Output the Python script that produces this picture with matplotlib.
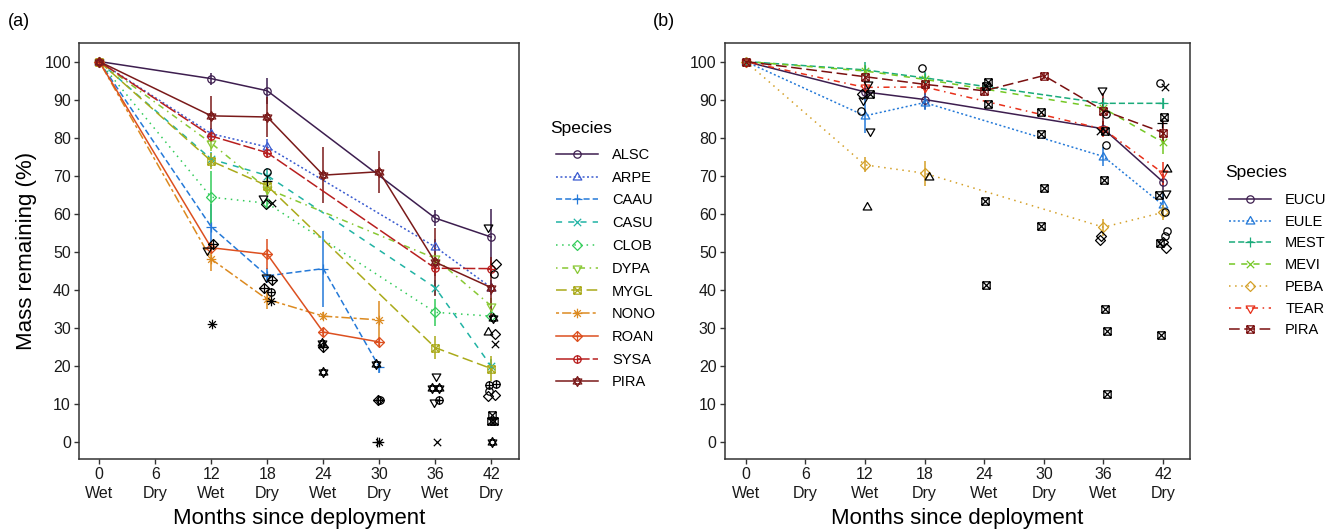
import numpy as np
import matplotlib.pyplot as plt
from matplotlib.path import Path

plt.rcParams['font.family'] = ['Liberation Sans', 'DejaVu Sans']

nan = np.nan

# ------------------------------------------------------------ data
months = [0, 6, 12, 18, 24, 30, 36, 42]
seasons = ['Wet', 'Dry', 'Wet', 'Dry', 'Wet', 'Dry', 'Wet', 'Dry']

# panel (a) - mean mass remaining (%) and error
species_a = ['ALSC', 'ARPE', 'CAAU', 'CASU', 'CLOB', 'DYPA', 'MYGL', 'NONO', 'ROAN', 'SYSA', 'PIRA']
alsc = [100, nan, 95.5, 92.3, nan, nan, 58.8, 53.8]
arpe = [100, nan, 81.0, 77.5, nan, nan, 51.2, 40.5]
caau = [100, nan, 56.5, 43.6, 45.5, 19.6, nan, nan]
casu = [100, nan, 74.3, 70.0, nan, nan, 40.5, 19.8]
clob = [100, nan, 64.3, 62.7, nan, nan, 34.0, 33.0]
dypa = [100, nan, 78.5, 66.5, nan, nan, 48.2, 35.7]
mygl = [100, nan, 73.8, 67.3, nan, nan, 24.7, 19.2]
nono = [100, nan, 48.0, 37.4, 33.0, 32.0, nan, nan]
roan = [100, nan, 51.0, 49.3, 28.8, 26.2, nan, nan]
sysa = [100, nan, 80.4, 76.0, nan, nan, 45.6, 45.5]
pira_a = [100, nan, 85.7, 85.4, 70.1, 71.0, 47.2, 40.5]

alsc_err = [0, nan, 1.6, 3.4, nan, nan, 2.0, 7.5]
arpe_err = [0, nan, 1.5, 2.0, nan, nan, 2.0, 2.0]
caau_err = [0, nan, 6.0, 2.0, 10.0, 1.5, nan, nan]
casu_err = [0, nan, 2.0, 2.0, nan, nan, 2.0, 2.0]
clob_err = [0, nan, 7.0, 1.5, nan, nan, 3.5, 1.0]
dypa_err = [0, nan, 2.0, 1.5, nan, nan, 1.5, 2.0]
mygl_err = [0, nan, 2.0, 2.0, nan, nan, 3.0, 3.3]
nono_err = [0, nan, 3.0, 2.5, 1.0, 5.0, nan, nan]
roan_err = [0, nan, 1.5, 4.0, 1.0, 1.0, nan, nan]
sysa_err = [0, nan, 1.5, 1.5, nan, nan, 2.0, 2.0]
pira_a_err = [0, nan, 5.3, 5.2, 7.4, 5.5, 9.0, 8.0]

# panel (a) - individual samples (black)
ind_a_month = [12.2, 11.5, 12.1,
               18.0, 18.0, 17.5, 17.9, 18.5, 17.9, 18.5, 17.7, 18.4, 18.4,
               23.9, 24.0, 24.0,
               29.6, 29.9, 30.1, 30.0, 29.8,
               36.1, 35.7, 36.4, 35.9, 36.4, 36.2,
               41.6, 42.5, 42.3, 42.2, 41.6, 42.4, 42.4, 41.8, 42.5, 41.8, 41.7, 42.4,
               42.1, 42.3, 42.0, 42.1]
ind_a_value = [52.0, 50.3, 31.0,
               71.0, 68.5, 64.0, 62.5, 62.7, 43.2, 42.6, 40.3, 39.3, 37.0,
               26.0, 25.0, 18.2,
               20.3, 11.0, 11.0, 0.0, 0.0,
               17.2, 14.0, 14.0, 10.3, 10.8, 0.0,
               56.5, 46.7, 44.1, 32.5, 28.8, 28.3, 25.6, 15.0, 15.2, 13.4, 12.0, 12.3,
               7.0, 5.5, 5.5, 0.0]
ind_a_species = ['ROAN', 'DYPA', 'NONO',
                 'ALSC', 'CAAU', 'DYPA', 'CLOB', 'CASU', 'DYPA', 'ROAN', 'ROAN', 'SYSA', 'NONO',
                 'PIRA', 'ROAN', 'PIRA',
                 'PIRA', 'ROAN', 'SYSA', 'NONO', 'CAAU',
                 'DYPA', 'PIRA', 'PIRA', 'DYPA', 'SYSA', 'CASU',
                 'DYPA', 'CLOB', 'ALSC', 'PIRA', 'ARPE', 'CLOB', 'CASU', 'SYSA', 'SYSA', 'ALSC',
                 'CLOB', 'CLOB', 'MYGL', 'MYGL', 'MYGL', 'PIRA']

# panel (b)
species_b = ['EUCU', 'EULE', 'MEST', 'MEVI', 'PEBA', 'TEAR', 'PIRA']
eucu = [100, nan, 92.0, 90.0, nan, nan, 82.3, 68.3]
eule = [100, nan, 85.7, 89.2, nan, nan, 75.0, 62.2]
mest = [100, nan, 97.8, 95.7, nan, nan, 89.0, 89.0]
mevi = [100, nan, 97.5, 95.3, nan, nan, 87.7, 78.7]
peba = [100, nan, 72.8, 70.6, nan, nan, 56.4, 60.3]
tear = [100, nan, 93.2, 93.3, nan, nan, 82.2, 70.6]
pira_b = [100, nan, 96.0, 94.0, 92.3, 96.3, 87.1, 81.3]

eucu_err = [0, nan, 2.0, 2.6, nan, nan, 2.0, 2.0]
eule_err = [0, nan, 4.5, 2.0, nan, nan, 2.6, 3.0]
mest_err = [0, nan, 2.0, 1.5, nan, nan, 1.5, 1.5]
mevi_err = [0, nan, 1.5, 1.5, nan, nan, 1.5, 3.0]
peba_err = [0, nan, 2.0, 3.3, nan, nan, 2.2, 2.0]
tear_err = [0, nan, 1.5, 1.5, nan, nan, 2.0, 3.0]
pira_b_err = [0, nan, 1.5, 1.5, 1.5, 1.0, 4.5, 3.0]

ind_b_month = [12.2, 12.5, 11.6, 12.3, 12.5, 11.8, 11.7,
               17.7, 18.4,
               24.4, 24.2, 24.4, 24.1, 24.2,
               29.7, 29.7, 30.0, 29.7,
               35.9, 36.3, 35.6, 36.2, 36.3, 36.1, 35.6, 35.8, 36.2, 36.4, 36.4,
               41.7, 42.2, 42.1, 41.9, 42.4, 42.3, 41.6, 42.2, 42.4, 42.2, 42.0, 42.3, 41.7, 41.8]
ind_b_value = [61.6, 81.6, 87.1, 94.0, 91.5, 90.0, 91.5,
               98.4, 69.5,
               94.5, 93.5, 88.7, 63.2, 41.3,
               86.8, 81.0, 66.6, 56.8,
               92.4, 86.3, 81.6, 81.8, 78.0, 68.7, 53.0, 54.0, 35.0, 29.2, 12.4,
               94.3, 93.3, 85.5, 83.7, 71.8, 65.3, 64.8, 60.3, 55.5, 54.0, 52.5, 51.0, 52.3, 28.0]
ind_b_species = ['EULE', 'TEAR', 'EUCU', 'TEAR', 'PIRA', 'TEAR', 'PEBA',
                 'EUCU', 'EULE',
                 'PIRA', 'PIRA', 'PIRA', 'PIRA', 'PIRA',
                 'PIRA', 'PIRA', 'PIRA', 'PIRA',
                 'TEAR', 'EUCU', 'MEVI', 'PIRA', 'EUCU', 'PIRA', 'PEBA', 'PEBA', 'PIRA', 'PIRA', 'PIRA',
                 'EUCU', 'MEVI', 'PIRA', 'MEST', 'EULE', 'TEAR', 'PIRA', 'EUCU', 'EUCU', 'EUCU', 'PEBA',
                 'PEBA', 'PIRA', 'PIRA']

# ------------------------------------------------------------ markers (ggplot-like shapes)
def seg(a, b):
    return Path([a, b], [Path.MOVETO, Path.LINETO])

def poly(pts):
    return Path(pts + [pts[0]], closed=True)

circle = Path.unit_circle()
square = poly([(-1, -1), (1, -1), (1, 1), (-1, 1)])
diamond = poly([(0, 1), (1, 0), (0, -1), (-1, 0)])
tri_up = poly([(0, 1), (-0.866, -0.5), (0.866, -0.5)])
tri_dn = poly([(0, -1), (-0.866, 0.5), (0.866, 0.5)])
plus = Path.make_compound_path(seg((-1, 0), (1, 0)), seg((0, -1), (0, 1)))
cross = Path.make_compound_path(seg((-1, -1), (1, 1)), seg((-1, 1), (1, -1)))
diag = Path.make_compound_path(seg((-0.7, -0.7), (0.7, 0.7)), seg((-0.7, 0.7), (0.7, -0.7)))

shapes = {
    'circle': (circle, 1.0),
    'triup': (tri_up, 1.35),
    'tridn': (tri_dn, 1.35),
    'plus': (plus, 1.3),
    'cross': (cross, 1.0),
    'diamond': (diamond, 1.35),
    'sqcross': (Path.make_compound_path(square, cross), 1.0),
    'asterisk': (Path.make_compound_path(plus, diag), 1.3),
    'diaplus': (Path.make_compound_path(diamond, plus), 1.35),
    'circplus': (Path.make_compound_path(circle, plus), 1.0),
    'hexagram': (Path.make_compound_path(tri_up, tri_dn), 1.35),
}

# ------------------------------------------------------------ styles
colors_a = ['#3d1e4f', '#3a5bd0', '#2479d8', '#21b3a4', '#33cc5a', '#88c833',
            '#aaaa1a', '#dc8a20', '#dc5020', '#b81f1f', '#7a1a1a']
dashes_a = [None, (1.3, 1.6), (4, 2), (4, 4), (1, 3), (1, 3, 4, 3),
            (7, 3), (2, 2, 6, 2), None, (12, 2, 8, 2), None]
marks_a = ['circle', 'triup', 'plus', 'cross', 'diamond', 'tridn',
           'sqcross', 'asterisk', 'diaplus', 'circplus', 'hexagram']

colors_b = ['#3d1e4f', '#2479d8', '#1aab7a', '#74c824', '#d4a028', '#e8301a', '#7a1010']
dashes_b = [None, (1.3, 1.6), (4, 2), (4, 4), (1, 3), (1, 3, 4, 3), (7, 3)]
marks_b = ['circle', 'triup', 'plus', 'cross', 'diamond', 'tridn', 'sqcross']

MS = 5.3


def draw_panel(ax, names, means, errs, colors, dashes, marks, ind_x, ind_y, ind_sp):
    handles = []
    x_all = np.array(months, float)
    for name, y, e, c, d, mk in zip(names, means, errs, colors, dashes, marks):
        y = np.array(y, float)
        e = np.array(e, float)
        ok = ~np.isnan(y)
        path, f = shapes[mk]
        ax.errorbar(x_all[ok], y[ok], yerr=e[ok], fmt='none', ecolor=c,
                    elinewidth=1.1, capsize=0, zorder=2)
        kw = dict(color=c, lw=1.1, marker=path, ms=MS * f, mfc='none', mec=c,
                  mew=0.9, zorder=3, label=name)
        if d is None:
            ln, = ax.plot(x_all[ok], y[ok], ls='-', **kw)
        else:
            ln, = ax.plot(x_all[ok], y[ok], ls='--', dashes=d, **kw)
        handles.append(ln)
    lookup = dict(zip(names, marks))
    for xx, yy, sp in zip(ind_x, ind_y, ind_sp):
        path, f = shapes[lookup[sp]]
        ax.plot([xx], [yy], ls='none', marker=path, ms=MS * f, mfc='none',
                mec='black', mew=0.9, zorder=4)

    ax.set_ylim(-4.6, 104.8)
    ax.set_yticks(range(0, 101, 10))
    ax.set_xticks(months)
    ax.set_xticklabels([f'{m}\n{s}' for m, s in zip(months, seasons)])
    for lbl in ax.get_xticklabels():
        lbl.set_linespacing(1.3)
    ax.tick_params(direction='out', length=3.5, width=1, color='#333333',
                   labelsize=11.5, pad=2.5, labelcolor='#1a1a1a')
    for sp in ax.spines.values():
        sp.set_color('#333333')
        sp.set_linewidth(1.1)
    ax.set_xlabel('Months since deployment', fontsize=16, labelpad=5)
    return handles


fig = plt.figure(figsize=(13.3, 5.29), dpi=100)
ax_a = fig.add_axes([0.0596, 0.1323, 0.3306, 0.7859])
ax_b = fig.add_axes([0.5451, 0.1323, 0.3496, 0.7859])

h_a = draw_panel(ax_a, species_a,
                 [alsc, arpe, caau, casu, clob, dypa, mygl, nono, roan, sysa, pira_a],
                 [alsc_err, arpe_err, caau_err, casu_err, clob_err, dypa_err, mygl_err,
                  nono_err, roan_err, sysa_err, pira_a_err],
                 colors_a, dashes_a, marks_a, ind_a_month, ind_a_value, ind_a_species)
ax_a.set_xlim(-2.14, 44.97)
ax_a.set_ylabel('Mass remaining (%)', fontsize=16, labelpad=5)

h_b = draw_panel(ax_b, species_b,
                 [eucu, eule, mest, mevi, peba, tear, pira_b],
                 [eucu_err, eule_err, mest_err, mevi_err, peba_err, tear_err, pira_b_err],
                 colors_b, dashes_b, marks_b, ind_b_month, ind_b_value, ind_b_species)
ax_b.set_xlim(-2.08, 44.7)

leg_kw = dict(loc='upper left', frameon=False, fontsize=10.5,
              handlelength=2.9, handletextpad=0.95,
              borderpad=0, borderaxespad=0)
fig.legend(h_a, species_a, bbox_to_anchor=(556 / 1330, 1 - 148 / 529),
           labelspacing=0.6, **leg_kw)
fig.legend(h_b, species_b, bbox_to_anchor=(1229 / 1330, 1 - 193 / 529),
           labelspacing=0.53, **leg_kw)
fig.text(550 / 1330, 1 - 128 / 529, 'Species', fontsize=12.5, va='center')
fig.text(1225 / 1330, 1 - 172 / 529, 'Species', fontsize=12.5, va='center')

fig.text(8 / 1330, 1 - 22 / 529, '(a)', fontsize=13, va='center')
fig.text(653 / 1330, 1 - 22 / 529, '(b)', fontsize=13, va='center')

fig.savefig('out.png', dpi=100)
